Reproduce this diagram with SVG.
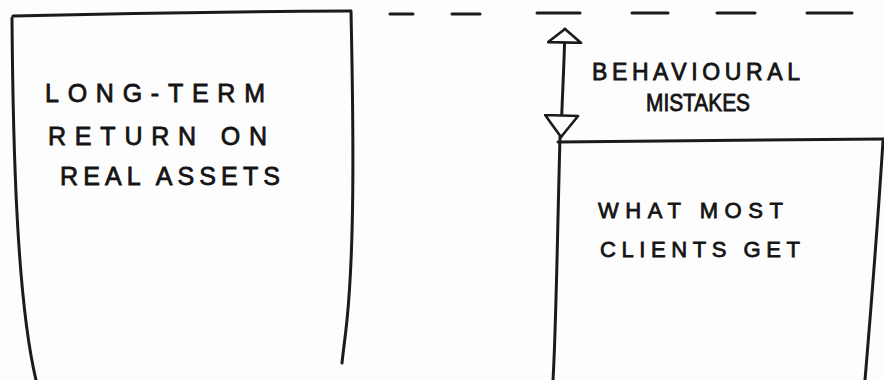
<svg xmlns="http://www.w3.org/2000/svg" width="884" height="380" viewBox="0 0 884 380">
  <style>
    .ink { fill: none; stroke: #1c1a1a; stroke-width: 3; stroke-linecap: round; stroke-linejoin: round; }
    .lbl { font-family: "Liberation Sans", "DejaVu Sans", sans-serif; fill: #151313; stroke: #151313; stroke-width: 0.8; }
    .big { font-size: 25px; }
    .mid { font-size: 23px; }
    .sm { font-size: 22px; }
  </style>
  <defs>
    <marker id="headUp" viewBox="0 0 16 36" refX="15" refY="18" markerWidth="16" markerHeight="36" markerUnits="userSpaceOnUse" orient="auto-start-reverse">
      <path d="M1.5,1.5 L15,18 L1.5,34.5 Z" fill="#fdfdfd" stroke="#1c1a1a" stroke-width="2.6" stroke-linejoin="round"/>
    </marker>
    <marker id="headDown" viewBox="0 0 24 36" refX="23" refY="18" markerWidth="24" markerHeight="36" markerUnits="userSpaceOnUse" orient="auto">
      <path d="M1.5,1.5 L23,18 L1.5,34.5 Z" fill="#fdfdfd" stroke="#1c1a1a" stroke-width="2.6" stroke-linejoin="round"/>
    </marker>
  </defs>
  <rect x="0" y="0" width="884" height="380" fill="#fdfdfd"/>

  <g id="left-box">
    <path class="ink" d="M13,16 Q180,12 350,11"/>
    <path class="ink" d="M12,18 C13,150 17,300 36,380"/>
    <path class="ink" d="M351,11 C354,150 354,250 347,320 C345,340 343,352 342,363"/>
    <text class="lbl big" x="45" y="102" textLength="220" lengthAdjust="spacing">LONG-TERM</text>
    <text class="lbl big" x="48" y="145" textLength="219" lengthAdjust="spacing">RETURN ON</text>
    <text class="lbl big" x="60" y="185" textLength="220" lengthAdjust="spacing">REAL ASSETS</text>
  </g>

  <g id="target-line">
    <path class="ink" d="M390,14 L413,14 M452,14 L480,14 M537,13 L580,13 M632,13 L668,13 M717,13 L755,13 M807,13 L852,13"/>
  </g>

  <g id="right-box">
    <path class="ink" d="M558,142 Q720,140 884,139"/>
    <path class="ink" d="M560,137 C557,250 556,330 553,380"/>
    <path class="ink" d="M883,141 C876,250 870,320 865,380"/>
    <text class="lbl sm" x="598" y="218" textLength="185" lengthAdjust="spacing">WHAT MOST</text>
    <text class="lbl sm" x="600" y="257" textLength="200" lengthAdjust="spacing">CLIENTS GET</text>
  </g>

  <g id="behavioural-label">
    <text class="lbl mid" x="592" y="80" textLength="208" lengthAdjust="spacing">BEHAVIOURAL</text>
    <text class="lbl" x="646" y="111" font-size="23" textLength="104" lengthAdjust="spacingAndGlyphs">MISTAKES</text>
  </g>

  <g id="connectors">
    <path class="ink" d="M565,29 C564,70 562,100 561,137" marker-start="url(#headUp)" marker-end="url(#headDown)"/>
  </g>
</svg>
